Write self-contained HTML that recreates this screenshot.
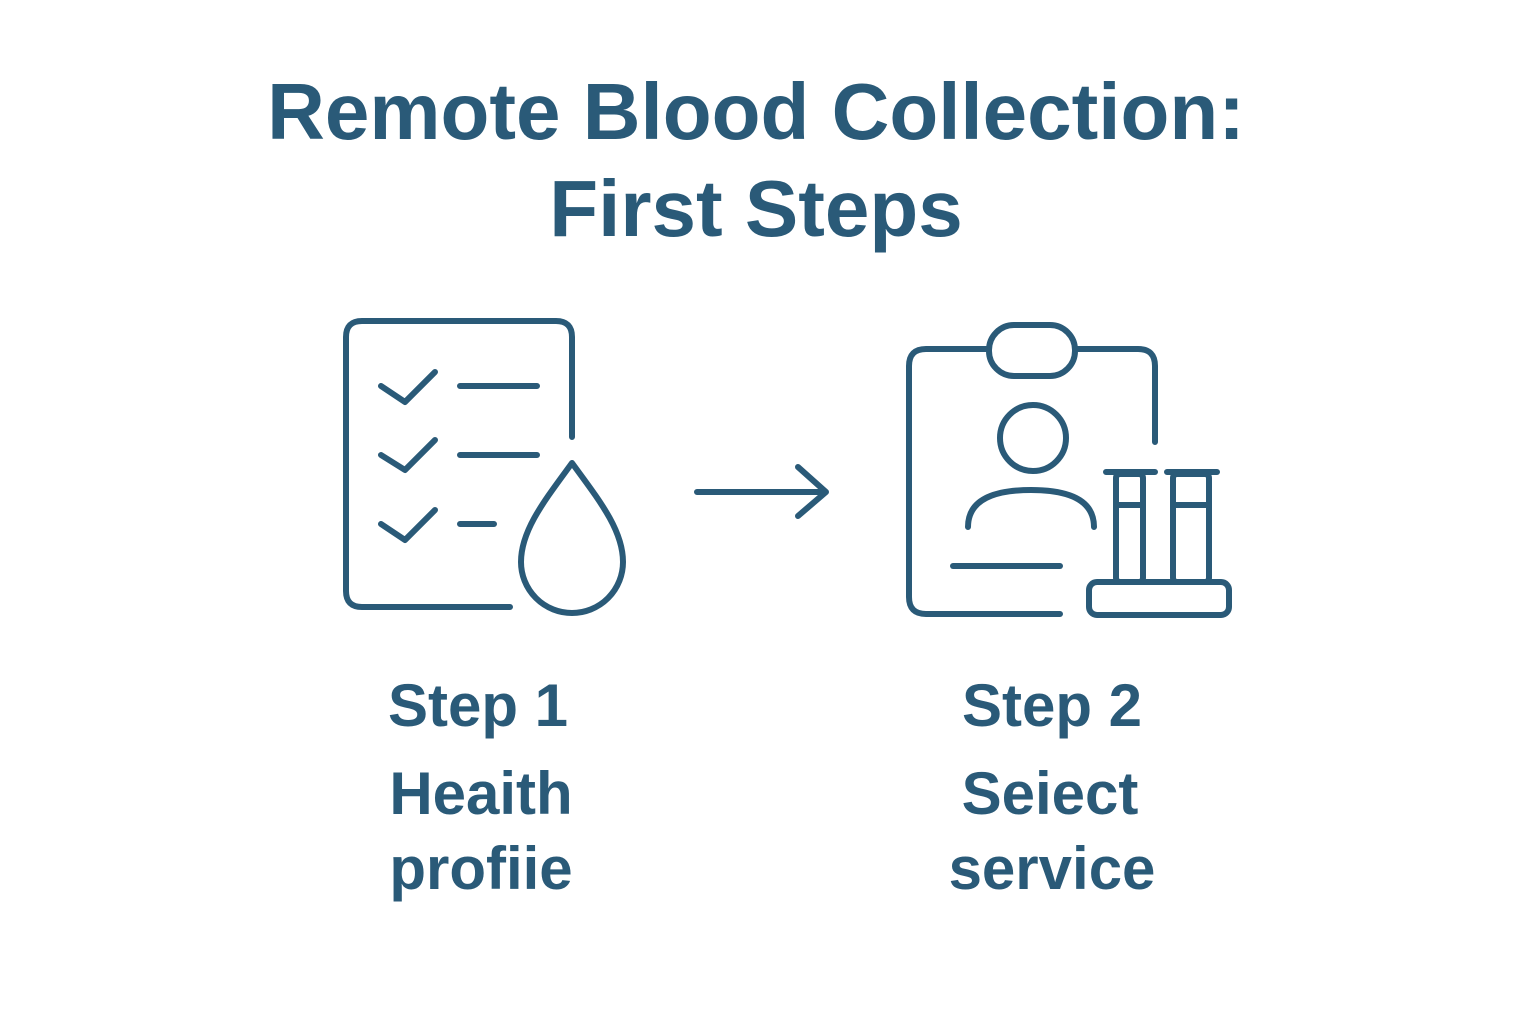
<!DOCTYPE html>
<html><head><style>
body{margin:0;width:1536px;height:1024px;background:#fff;overflow:hidden;font-family:"Liberation Sans",sans-serif;color:#2a5a78}
.t{position:absolute;left:-12px;width:1536px;text-align:center;font-weight:bold;font-size:80px;line-height:1}
.s{position:absolute;width:400px;text-align:center;font-weight:bold;font-size:60px;line-height:1}
</style></head><body>
<div class="t" style="top:72px">Remote Blood Collection:</div>
<div class="t" style="top:169px">First Steps</div>
<svg width="1536" height="1024" style="position:absolute;left:0;top:0" fill="none" stroke="#2a5a78" stroke-width="6" stroke-linecap="round" stroke-linejoin="round">
<path d="M572 437 V337 q0-16 -16-16 H362 q-16 0-16 16 V591 q0 16 16 16 H510"/>
<path d="M381 386 L405 402 L435 372 M381 455 L405 470 L435 440 M381 524 L405 540 L435 510"/>
<path d="M460 386 H537 M460 455 H537 M460 524 H494"/>
<path d="M572 463 C545 500 521 530 521 562 A51 51 0 0 0 623 562 C623 530 599 500 572 463 Z"/>
<path d="M697 492 H826 M798 467 L826 492 L798 516"/>
<path d="M989 349 H926 q-17 0 -17 17 V597 q0 17 17 17 H1060 M1075 349 H1138 q17 0 17 17 V442"/>
<rect x="989" y="325" width="86" height="51" rx="25"/>
<circle cx="1033" cy="438" r="33"/>
<path d="M968 527 Q968 490 1031 490 Q1094 490 1094 527"/>
<path d="M953 566 H1060"/>
<rect x="1089" y="582" width="140" height="33" rx="8"/>
<path d="M1106 472 H1155 M1167 472 H1217"/>
<rect x="1116" y="474" width="27" height="108" rx="4"/>
<rect x="1173" y="474" width="36" height="108" rx="4"/>
<path d="M1116 505 H1143 M1173 505 H1209"/>
</svg>
<div class="s" style="left:278px;top:676px">Step 1</div>
<div class="s" style="left:281px;top:764px">Heaith</div>
<div class="s" style="left:281px;top:839px">profiie</div>
<div class="s" style="left:852px;top:676px">Step 2</div>
<div class="s" style="left:850px;top:764px">Seiect</div>
<div class="s" style="left:852px;top:839px">service</div>
</body></html>
